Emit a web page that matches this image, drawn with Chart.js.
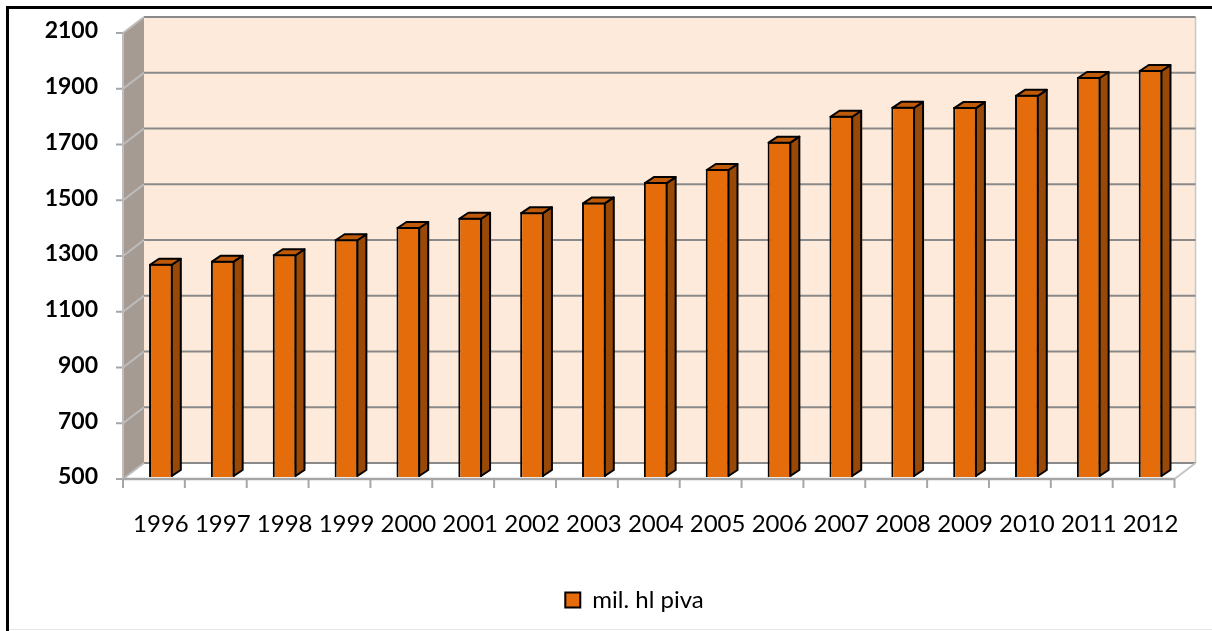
<!DOCTYPE html>
<html>
<head>
<meta charset="utf-8">
<script src="https://cdn.jsdelivr.net/npm/chart.js@4/dist/chart.umd.min.js"></script>
<style>
  html, body { margin: 0; padding: 0; background: #ffffff; }
  #wrap { width: 1212px; height: 631px; position: relative; }
</style>
</head>
<body>
<div id="wrap"><canvas id="c" width="1212" height="631"></canvas></div>
<script>
const years = ['1996','1997','1998','1999','2000','2001','2002','2003','2004','2005','2006','2007','2008','2009','2010','2011','2012'];
const beerVolume = [1265, 1276, 1299, 1353, 1397, 1430, 1450, 1485, 1558, 1605, 1703, 1796, 1828, 1827, 1871, 1935, 1960];
const seriesName = 'mil. hl piva';
const yMin = 500, yMax = 2100, yStep = 200;

const FRONT = { dx: -7, dy: 2 };
const BACK = { dx: 14, dy: -14 };
const BAR_DEPTH = { dx: 9, dy: -6 };
const LEGEND_SHIFT = 23;

const threeD = {
  id: 'threeD',
  afterLayout(chart) {
    const lg = chart.legend;
    if (lg) { lg.left += LEGEND_SHIFT; lg.right += LEGEND_SHIFT; }
  },
  beforeDraw(chart) {
    const ctx = chart.ctx;
    ctx.save();
    ctx.fillStyle = '#ffffff';
    ctx.fillRect(0, 0, chart.width, chart.height);
    ctx.strokeStyle = '#000000';
    ctx.lineWidth = 3;
    ctx.beginPath();
    ctx.moveTo(7.5, chart.height);
    ctx.lineTo(7.5, 7.5);
    ctx.lineTo(chart.width, 7.5);
    ctx.stroke();
    ctx.strokeStyle = '#e6e6e6';
    ctx.lineWidth = 1;
    ctx.beginPath();
    ctx.moveTo(9, 629.5);
    ctx.lineTo(chart.width, 629.5);
    ctx.stroke();
    ctx.restore();
  },
  beforeDatasetsDraw(chart) {
    const { ctx, chartArea: a, scales: { x, y } } = chart;
    const yTop = y.getPixelForValue(yMax);
    const yBot = y.getPixelForValue(yMin);
    const fl = a.left + FRONT.dx, fr = a.right + FRONT.dx;
    const bl = a.left + BACK.dx, br = a.right + BACK.dx;
    ctx.save();
    ctx.fillStyle = '#FDEADA';
    ctx.fillRect(bl, yTop + BACK.dy, br - bl, yBot - yTop);
    ctx.fillStyle = '#ffffff';
    ctx.beginPath();
    ctx.moveTo(fl, yBot + FRONT.dy);
    ctx.lineTo(fr, yBot + FRONT.dy);
    ctx.lineTo(br, yBot + BACK.dy);
    ctx.lineTo(bl, yBot + BACK.dy);
    ctx.closePath();
    ctx.fill();
    ctx.fillStyle = '#A59B93';
    ctx.beginPath();
    ctx.moveTo(fl, yTop + FRONT.dy);
    ctx.lineTo(bl, yTop + BACK.dy);
    ctx.lineTo(bl, yBot + BACK.dy);
    ctx.lineTo(fl, yBot + FRONT.dy);
    ctx.closePath();
    ctx.fill();
    ctx.strokeStyle = '#c8c8c8';
    ctx.lineWidth = 1.5;
    ctx.beginPath();
    ctx.moveTo(br, yTop + BACK.dy);
    ctx.lineTo(br, yBot + BACK.dy);
    ctx.stroke();
    for (let v = yMin; v <= yMax; v += yStep) {
      const py = y.getPixelForValue(v);
      ctx.strokeStyle = '#8a8a8a';
      ctx.lineWidth = 2;
      ctx.beginPath();
      ctx.moveTo(bl, py + BACK.dy);
      ctx.lineTo(br, py + BACK.dy);
      ctx.stroke();
      ctx.strokeStyle = '#bdbdbd';
      ctx.beginPath();
      ctx.moveTo(fl, py + FRONT.dy);
      ctx.lineTo(bl, py + BACK.dy);
      ctx.stroke();
      ctx.strokeStyle = '#a6a6a6';
      ctx.beginPath();
      ctx.moveTo(fl - 7, py + FRONT.dy);
      ctx.lineTo(fl, py + FRONT.dy);
      ctx.stroke();
    }
    ctx.strokeStyle = '#bdbdbd';
    ctx.lineWidth = 2;
    ctx.beginPath();
    ctx.moveTo(fl, yTop + FRONT.dy);
    ctx.lineTo(fl, yBot + FRONT.dy);
    ctx.stroke();
    ctx.strokeStyle = '#c4c4c4';
    ctx.beginPath();
    ctx.moveTo(fr, yBot + FRONT.dy);
    ctx.lineTo(br, yBot + BACK.dy);
    ctx.stroke();
    ctx.strokeStyle = '#a6a6a6';
    ctx.lineWidth = 2.5;
    ctx.beginPath();
    ctx.moveTo(fl, yBot + FRONT.dy);
    ctx.lineTo(fr, yBot + FRONT.dy);
    ctx.stroke();
    const n = years.length;
    const step = (a.right - a.left) / n;
    ctx.lineWidth = 2;
    for (let i = 0; i <= n; i++) {
      const px = x.getPixelForValue(Math.min(i, n - 1)) + (i === n ? step / 2 : -step / 2) + FRONT.dx;
      ctx.beginPath();
      ctx.moveTo(px, yBot + FRONT.dy);
      ctx.lineTo(px, yBot + FRONT.dy + 9);
      ctx.stroke();
    }
    ctx.restore();
  },
  afterDatasetsDraw(chart) {
    const { ctx, chartArea } = chart;
    const meta = chart.getDatasetMeta(0);
    ctx.save();
    ctx.strokeStyle = '#000000';
    ctx.lineWidth = 2;
    ctx.lineJoin = 'round';
    meta.data.forEach(bar => {
      const { x, y, base, width } = bar.getProps(['x', 'y', 'base', 'width'], true);
      const l = x - width / 2 + 1, r = x + width / 2 - 1, t = y + 1;
      const b = Math.min(base, chartArea.bottom) - 1;
      ctx.fillStyle = '#984807';
      ctx.beginPath();
      ctx.moveTo(r, t);
      ctx.lineTo(r + BAR_DEPTH.dx, t + BAR_DEPTH.dy);
      ctx.lineTo(r + BAR_DEPTH.dx, b + BAR_DEPTH.dy);
      ctx.lineTo(r, b);
      ctx.closePath();
      ctx.fill();
      ctx.stroke();
      ctx.fillStyle = '#BF5A09';
      ctx.beginPath();
      ctx.moveTo(l, t);
      ctx.lineTo(l + BAR_DEPTH.dx, t + BAR_DEPTH.dy);
      ctx.lineTo(r + BAR_DEPTH.dx, t + BAR_DEPTH.dy);
      ctx.lineTo(r, t);
      ctx.closePath();
      ctx.fill();
      ctx.stroke();
    });
    ctx.restore();
  }
};

new Chart(document.getElementById('c'), {
  type: 'bar',
  data: {
    labels: years,
    datasets: [{
      label: seriesName,
      data: beerVolume,
      backgroundColor: '#E46C0A',
      borderColor: '#000000',
      borderWidth: 2,
      categoryPercentage: 1,
      barPercentage: 0.384
    }]
  },
  options: {
    responsive: false,
    animation: false,
    layout: { padding: { left: 30, right: 19, top: 31, bottom: 9 } },
    plugins: {
      tooltip: { enabled: false },
      legend: {
        position: 'bottom',
        labels: {
          boxWidth: 15,
          boxHeight: 15,
          padding: 10,
          color: '#000000',
          font: { family: 'Lato', size: 24 }
        }
      }
    },
    scales: {
      x: {
        grid: { display: false, drawTicks: false },
        border: { display: false },
        ticks: {
          autoSkip: false, maxRotation: 0, minRotation: 0, padding: 33,
          color: '#000000', font: { family: 'Lato', size: 24 }
        },
        afterFit(scale) { scale.height = 101; }
      },
      y: {
        min: yMin, max: yMax,
        grid: { display: false, drawTicks: false },
        border: { display: false },
        ticks: {
          stepSize: yStep, padding: 32,
          color: '#000000', font: { family: 'Lato', size: 23, weight: 'bold' },
          callback: (v) => String(v)
        },
        afterFit(scale) { scale.width = 100; scale.paddingTop = 0; scale.paddingBottom = 0; }
      }
    }
  },
  plugins: [threeD]
});
</script>
</body>
</html>
